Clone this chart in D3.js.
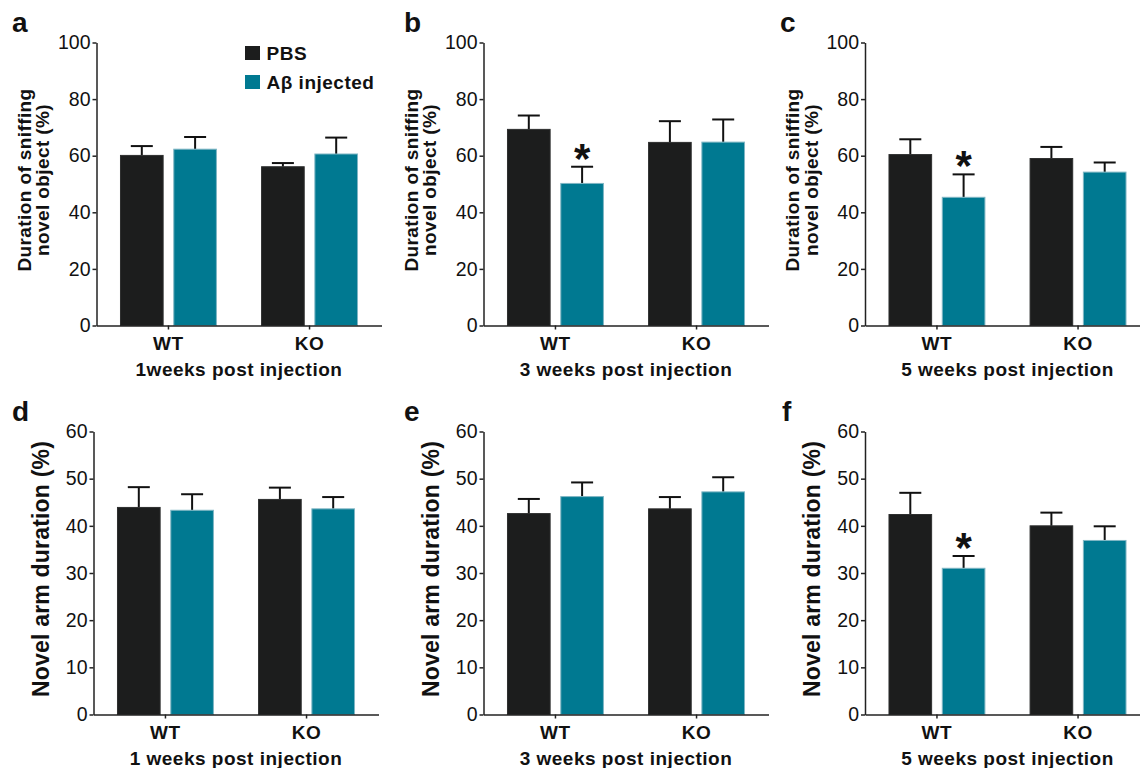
<!DOCTYPE html>
<html>
<head>
<meta charset="utf-8">
<script src="https://cdn.jsdelivr.net/npm/d3@7"></script>
<style>
  body { margin: 0; background: #fff; }
  text { font-family: "Liberation Sans", Arial, sans-serif; fill: #111; }
  .axis path, .axis line { stroke: #222; stroke-width: 1.5px; }
  .axis text { font-size: 19.5px; }
  .bold { font-weight: bold; }
</style>
</head>
<body>
<div id="chart"></div>
<script>
var w = 1140;
var h = 768;

var groups = ["WT", "KO"];
var treatments = ["PBS", "A\u03b2 injected"];
var colors = ["#1c1d1d", "#007991"];
var edges = ["#2e2f2f", "#7fb6c4"];

// novel object test (%), top row
var pbsA = [60.1, 56.1], abA = [62.3, 60.6], pbsErrA = [3.3, 1.3], abErrA = [4.3, 5.8];
var pbsB = [69.3, 64.7], abB = [50.2, 64.8], pbsErrB = [4.9, 7.5], abErrB = [5.9, 8.0];
var pbsC = [60.4, 59.0], abC = [45.3, 54.2], pbsErrC = [5.4, 4.1], abErrC = [8.1, 3.4];
// novel arm duration (%), bottom row
var pbsD = [43.9, 45.6], abD = [43.3, 43.6], pbsErrD = [4.3, 2.5], abErrD = [3.4, 2.5];
var pbsE = [42.6, 43.6], abE = [46.2, 47.2], pbsErrE = [3.1, 2.5], abErrE = [3.0, 3.1];
var pbsF = [42.4, 40.0], abF = [31.0, 36.9], pbsErrF = [4.6, 2.8], abErrF = [2.6, 3.0];

var topTicks = [0, 20, 40, 60, 80, 100];
var bottomTicks = [0, 10, 20, 30, 40, 50, 60];

var svg = d3.select("#chart")
	.append("svg")
	.attr("width", w)
	.attr("height", h);

var panels = [
	{ letter: "a", x0: 96.5, lx: 12, top: 42.5, bottom: 325.5, max: 100, ticks: topTicks,
	  pbs: pbsA, ab: abA, pbsErr: pbsErrA, abErr: abErrA, star: null,
	  title: ["Duration of sniffing", "novel object (%)"], xTitle: "1weeks post injection", legend: true },
	{ letter: "b", x0: 483.5, lx: 404, top: 42.5, bottom: 325.5, max: 100, ticks: topTicks,
	  pbs: pbsB, ab: abB, pbsErr: pbsErrB, abErr: abErrB, star: "WT",
	  title: ["Duration of sniffing", "novel object (%)"], xTitle: "3 weeks post injection" },
	{ letter: "c", x0: 865, lx: 780, top: 42.5, bottom: 325.5, max: 100, ticks: topTicks,
	  pbs: pbsC, ab: abC, pbsErr: pbsErrC, abErr: abErrC, star: "WT",
	  title: ["Duration of sniffing", "novel object (%)"], xTitle: "5 weeks post injection" },
	{ letter: "d", x0: 93.5, lx: 12, top: 431.5, bottom: 714.5, max: 60, ticks: bottomTicks,
	  pbs: pbsD, ab: abD, pbsErr: pbsErrD, abErr: abErrD, star: null,
	  title: ["Novel arm duration (%)"], xTitle: "1 weeks post injection" },
	{ letter: "e", x0: 483.5, lx: 404, top: 431.5, bottom: 714.5, max: 60, ticks: bottomTicks,
	  pbs: pbsE, ab: abE, pbsErr: pbsErrE, abErr: abErrE, star: null,
	  title: ["Novel arm duration (%)"], xTitle: "3 weeks post injection" },
	{ letter: "f", x0: 865, lx: 782, top: 431.5, bottom: 714.5, max: 60, ticks: bottomTicks,
	  pbs: pbsF, ab: abF, pbsErr: pbsErrF, abErr: abErrF, star: "WT",
	  title: ["Novel arm duration (%)"], xTitle: "5 weeks post injection" }
];

panels.forEach(drawPanel);

function drawPanel(p) {
	var axisW = 285;
	var x1 = p.x0 + axisW;

	var xScale = d3.scaleBand()
		.domain(groups)
		.range([p.x0, x1])
		.paddingInner(0.32)
		.paddingOuter(0.17);

	var xSub = d3.scaleBand()
		.domain(treatments)
		.range([0, xScale.bandwidth()])
		.paddingInner(0.2);

	var yScale = d3.scaleLinear()
		.domain([0, p.max])
		.range([p.bottom, p.top]);

	var g = svg.append("g");

	var data = [];
	groups.forEach(function(grp, i) {
		data.push({ group: grp, t: treatments[0], v: p.pbs[i], e: p.pbsErr[i], k: 0 });
		data.push({ group: grp, t: treatments[1], v: p.ab[i], e: p.abErr[i], k: 1 });
	});

	function barCenter(d) {
		return xScale(d.group) + xSub(d.t) + xSub.bandwidth() / 2;
	}

	// error bars (upper only)
	g.selectAll(".err")
		.data(data)
		.enter()
		.append("line")
		.attr("x1", barCenter)
		.attr("x2", barCenter)
		.attr("y1", function(d) { return yScale(d.v); })
		.attr("y2", function(d) { return yScale(d.v + d.e); })
		.attr("stroke", "#111")
		.attr("stroke-width", 2);

	g.selectAll(".cap")
		.data(data)
		.enter()
		.append("line")
		.attr("x1", function(d) { return barCenter(d) - 11; })
		.attr("x2", function(d) { return barCenter(d) + 11; })
		.attr("y1", function(d) { return yScale(d.v + d.e); })
		.attr("y2", function(d) { return yScale(d.v + d.e); })
		.attr("stroke", "#111")
		.attr("stroke-width", 2);

	g.selectAll("rect")
		.data(data)
		.enter()
		.append("rect")
		.attr("x", function(d) { return xScale(d.group) + xSub(d.t); })
		.attr("y", function(d) { return yScale(d.v); })
		.attr("width", xSub.bandwidth())
		.attr("height", function(d) { return p.bottom - yScale(d.v); })
		.attr("fill", function(d) { return colors[d.k]; })
		.attr("stroke", function(d) { return edges[d.k]; })
		.attr("stroke-width", 1);

	// significance star above the Abeta bar
	if (p.star) {
		var i = groups.indexOf(p.star);
		var sd = data[i * 2 + 1];
		g.append("text")
			.attr("class", "bold")
			.attr("x", barCenter(sd))
			.attr("y", yScale(sd.v + sd.e) + 6)
			.attr("text-anchor", "middle")
			.style("font-size", "42px")
			.text("*");
	}

	var yAxis = d3.axisLeft(yScale)
		.tickValues(p.ticks)
		.tickSize(4)
		.tickPadding(2)
		.tickSizeOuter(0);

	g.append("g")
		.attr("class", "axis")
		.attr("transform", "translate(" + p.x0 + ",0)")
		.call(yAxis);

	var xAxis = d3.axisBottom(xScale)
		.tickSize(4)
		.tickSizeOuter(0)
		.tickFormat("");

	g.append("g")
		.attr("class", "axis")
		.attr("transform", "translate(0," + p.bottom + ")")
		.call(xAxis);

	// category labels
	g.selectAll(".cat")
		.data(groups)
		.enter()
		.append("text")
		.attr("class", "bold")
		.attr("x", function(d) { return xScale(d) + xScale.bandwidth() / 2; })
		.attr("y", p.bottom + 24)
		.attr("text-anchor", "middle")
		.style("font-size", "19px")
		.style("letter-spacing", "0.6px")
		.text(function(d) { return d; });

	g.append("text")
		.attr("class", "bold")
		.attr("x", (p.x0 + x1) / 2)
		.attr("y", p.bottom + 50)
		.attr("text-anchor", "middle")
		.style("font-size", "19px")
		.style("letter-spacing", "0.5px")
		.text(p.xTitle);

	// y title
	var midY = (p.top + p.bottom) / 2 - 4;
	if (p.title.length === 2) {
		p.title.forEach(function(t, k) {
			g.append("text")
				.attr("class", "bold")
				.attr("transform", "translate(" + (p.x0 - 66 + k * 18.5) + "," + midY + ") rotate(-90)")
				.attr("text-anchor", "middle")
				.style("font-size", "19px")
				.style("letter-spacing", "0.4px")
				.text(t);
		});
	}
	else {
		g.append("text")
			.attr("class", "bold")
			.attr("transform", "translate(" + (p.x0 - 45) + "," + midY + ") rotate(-90)")
			.attr("text-anchor", "middle")
			.style("font-size", "23px")
			.style("letter-spacing", "0.2px")
			.text(p.title[0]);
	}

	// panel letter
	g.append("text")
		.attr("class", "bold")
		.attr("x", p.lx)
		.attr("y", p.top - 10.5)
		.style("font-size", "28px")
		.text(p.letter);

	if (p.legend) {
		var leg = g.selectAll(".leg")
			.data(treatments)
			.enter()
			.append("g")
			.attr("transform", function(d, k) { return "translate(245," + (46 + k * 29) + ")"; });
		leg.append("rect")
			.attr("width", 15)
			.attr("height", 14)
			.attr("fill", function(d, k) { return colors[k]; });
		leg.append("text")
			.attr("class", "bold")
			.attr("x", 21.5)
			.attr("y", 14)
			.style("font-size", "19px")
			.style("letter-spacing", "0.5px")
			.text(function(d) { return d; });
	}
}
</script>
</body>
</html>
